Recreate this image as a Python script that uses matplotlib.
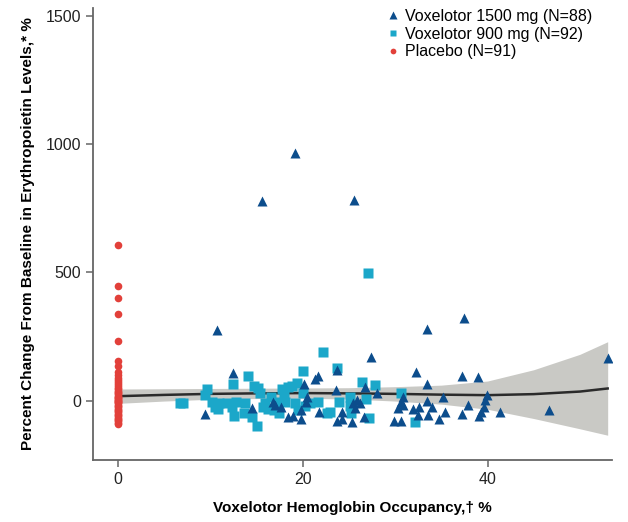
import matplotlib
matplotlib.use("Agg")
import matplotlib.pyplot as plt
import numpy as np

plt.rcParams['font.family'] = ['Liberation Sans', 'DejaVu Sans']

# placebo: occupancy is 0 for every patient
placebo_y = [607, 447, 401, 338, 233, 156, 136, 113, 100, 90, 80, 72, 65, 58, 50,
             45, 40, 35, 30, 25, 20, 15, 12, 10, 5, 2, 0, -3, -5, -10, -15, -20,
             -25, -30, -35, -40, -45, -50, -55, -60, -65, -70, -75, -80, -85, -90]
placebo_x = [0] * len(placebo_y)

# voxelotor 900 mg
v900_x = [6.7, 7.0, 9.6, 9.4, 10.2, 10.5, 10.8, 10.9, 11.8, 12.5, 12.4, 12.6, 12.8,
          13.7, 14.1, 13.8, 14.5, 14.7, 15.0, 15.2, 15.4, 15.7, 15.9, 16.6, 16.9,
          17.2, 17.4, 17.8, 18.1, 18.4, 18.8, 19.4, 19.2, 19.5, 20.0, 20.0, 20.2,
          20.8, 21.7, 22.2, 22.6, 23.7, 23.9, 25.2, 25.1, 26.4, 26.9, 27.1, 27.2,
          27.8, 25.1, 30.6, 32.2, 22.9, 18.0, 16.2]
v900_y = [-8, -8, 47, 23, -4, -23, -31, -8, -8, 66, -23, -58, -4,
          -47, 97, -8, -62, 58, -97, 51, 31, -23, -8, 16, -35,
          -4, -47, 47, -4, 54, 58, 70, -8, -35, 117, 31, -19,
          -8, -4, 191, -47, 128, -4, -47, 16, 74, 8, 498, -66,
          62, -20, 31, -82, -45, 20, -30]

# voxelotor 1500 mg
v1500_x = [15.6, 19.2, 25.6, 10.7, 9.4, 12.5, 14.5, 16.8, 17.0, 17.7, 18.4, 18.9,
           19.8, 19.8, 20.1, 20.4, 20.5, 21.3, 21.7, 21.8, 23.7, 23.6, 23.7, 24.2,
           24.3, 25.3, 25.4, 25.7, 25.9, 26.2, 26.6, 26.7, 27.4, 28.0, 29.9, 30.6,
           30.3, 30.6, 30.8, 30.8, 31.9, 32.3, 32.5, 32.6, 33.4, 33.5, 33.5, 33.6,
           34.0, 34.7, 35.2, 35.4, 37.2, 37.2, 37.5, 37.9, 39.0, 39.1, 39.3, 39.6,
           39.7, 39.9, 41.3, 46.6, 53.0]
v1500_y = [776, 966, 780, 276, -51, 109, -27, -4, -16, -23, -62, -58,
           -70, -35, 66, -4, 16, 86, 97, -43, 121, 43, -78, -70,
           -43, -82, -8, -27, 4, -8, -62, 54, 171, 31, -78, -78,
           -27, -4, 16, -16, -31, 113, -54, -23, 66, 0, 280, -54,
           -23, -70, 16, -43, -51, 97, 323, -16, 93, -58, -43, -23,
           4, 23, -43, -35, 167]

# smoothed fit and confidence band
fit_x = [0, 5, 10, 15, 20, 25, 30, 35, 40, 45, 50, 53]
fit_y = [18, 23, 27, 29, 30, 29, 27, 24, 22, 26, 36, 48]
fit_half = [28, 24, 21, 20, 20, 22, 28, 37, 55, 95, 145, 182]

fig = plt.figure(figsize=(6.28, 5.22), dpi=100)
ax = fig.add_axes([0.148, 0.119, 0.827, 0.866])

lo = np.array(fit_y) - np.array(fit_half)
hi = np.array(fit_y) + np.array(fit_half)
ax.fill_between(fit_x, lo, hi, color='#c9c9c5', lw=0, zorder=1)
ax.plot(fit_x, fit_y, color='#2b2b2b', lw=1.8, zorder=2)

ax.plot(placebo_x, placebo_y, 'o', color='#e2403a', ms=5.5, mec='none',
        zorder=3, label='Placebo (N=91)')
ax.plot(v900_x, v900_y, 's', color='#1ba7c9', ms=6.5, mec='none',
        zorder=4, label='Voxelotor 900 mg (N=92)')
ax.plot(v1500_x, v1500_y, '^', color='#0c4d8c', ms=7.5, mec='none',
        zorder=5, label='Voxelotor 1500 mg (N=88)')

ax.set_xlim(-2.7, 53.5)
ax.set_ylim(-230, 1530)
ax.set_xticks([0, 20, 40])
ax.set_yticks([0, 500, 1000, 1500])

for s in ['top', 'right']:
    ax.spines[s].set_visible(False)
for s in ['left', 'bottom']:
    ax.spines[s].set_color('#666666')
    ax.spines[s].set_linewidth(1.3)
ax.tick_params(colors='#666666', labelcolor='#222222', labelsize=11.5,
               length=5, width=1.1)

ax.set_xlabel('Voxelotor Hemoglobin Occupancy,† %', fontsize=11,
              fontweight='bold', labelpad=10)
ax.set_ylabel('Percent Change From Baseline in Erythropoietin Levels,* %',
              fontsize=11, fontweight='bold', labelpad=8)

h, l = ax.get_legend_handles_labels()
ax.legend(h[::-1], l[::-1], loc='upper left', bbox_to_anchor=(0.54, 1.03),
          frameon=False, fontsize=11.5, handlelength=0.6, handletextpad=0.45,
          labelspacing=0.18, markerscale=0.75)

fig.savefig('out.png', dpi=100)
